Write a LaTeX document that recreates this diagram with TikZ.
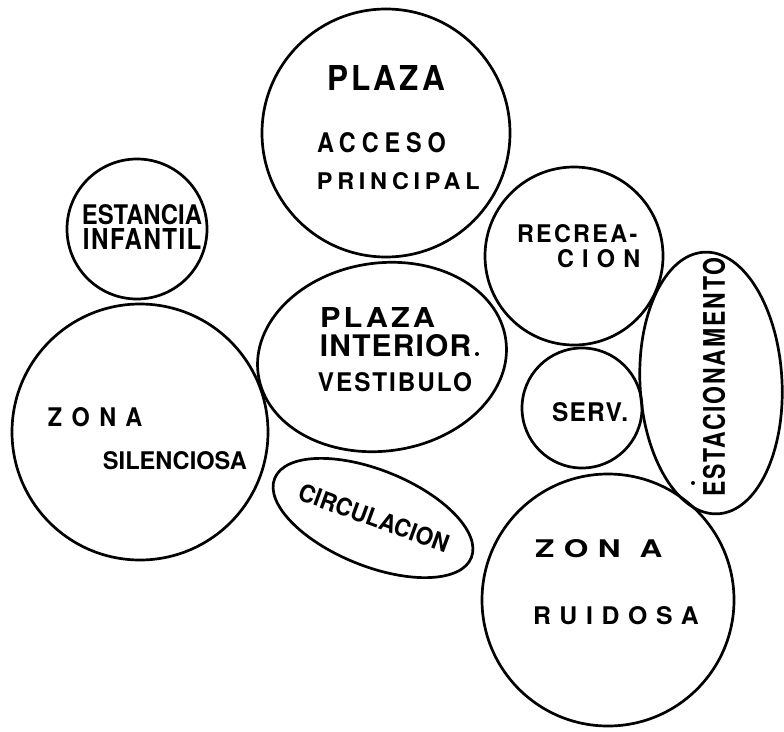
\documentclass[tikz,border=0pt]{standalone}
\usepackage{fontspec}
\usepackage{graphicx}
\usetikzlibrary{shapes.geometric}
\newfontfamily\hvfont{TeX Gyre Heros}
\newcommand{\fitt}[4]{\resizebox{#1pt}{#2pt}{\hvfont\bfseries\addfontfeature{LetterSpace=#3}#4\kern-\dimexpr#3\fontdimen6\font/100\relax}}
\begin{document}
\begin{tikzpicture}[x=1pt,y=-1pt,
  zone/.style={draw, line width=2.7pt, inner sep=0pt, outer sep=0pt},
  rnd/.style={zone, circle, minimum size=#1},
  ell/.style={zone, ellipse},
  lbl/.style={inner sep=0pt, outer sep=0pt, anchor=center},
  spot/.style={circle, fill, inner sep=0pt, minimum size=4pt}]
\useasboundingbox (0,0) rectangle (784,731);
% zones
\node[rnd=248pt] (plaza) at (386,133) {};
\node[rnd=140pt] (estancia) at (137,229) {};
\node[rnd=256pt] (silenciosa) at (140,432) {};
\node[ell, minimum width=250pt, minimum height=188pt, rotate=8] (interior) at (382,357) {};
\node[ell, minimum width=212pt, minimum height=96pt, rotate=-22] (circulacion) at (373,518) {};
\node[rnd=178pt] (recreacion) at (574,256) {};
\node[rnd=120pt] (serv) at (582,408) {};
\node[ell, minimum width=142pt, minimum height=262pt, rotate=3] (estac) at (711,383) {};
\node[rnd=252pt] (ruidosa) at (608,600) {};
% labels
\node[lbl] (t1) at (384.5,77.5) {\fitt{115}{25}{10}{PLAZA}};
\node[lbl] (t2) at (378.5,143) {\fitt{123}{20}{25}{ACCESO}};
\node[lbl] (t3) at (396,181.5) {\fitt{158}{17}{20}{PRINCIPAL}};
\node[lbl] (t4) at (142,215) {\fitt{120}{20}{0}{ESTANCIA}};
\node[lbl] (t5) at (141.5,239) {\fitt{117}{21}{6}{INFANTIL}};
\node[lbl] (t6) at (90.5,417.5) {\fitt{85}{19}{40}{ZONA}};
\node[lbl] (t7) at (175,461) {\fitt{144}{18}{0}{SILENCIOSA}};
\node[lbl] (t8) at (376,317) {\fitt{112}{20}{10}{PLAZA}};
\node[lbl] (t9) at (395,346) {\fitt{150}{22}{4}{INTERIOR}};
\node[spot] (d1) at (477,354) {};
\node[lbl] (t10) at (394,382.5) {\fitt{152}{19}{8}{VESTIBULO}};
\node[lbl, rotate=-20] (t11) at (374,518) {\fitt{158}{18}{0}{CIRCULACION}};
\node[lbl] (t12) at (576,234) {\fitt{118}{18}{10}{RECREA-}};
\node[lbl] (t13) at (594.5,259) {\fitt{75}{18}{35}{CION}};
\node[lbl] (t14) at (589.5,412.5) {\fitt{75}{19}{5}{SERV.}};
\node[lbl, rotate=90] (t15) at (714,378) {\fitt{237}{22}{8}{ESTACIONAMENTO}};
\node[spot] (d2) at (693,483) {};
\node[lbl] (t16) at (594,549) {\fitt{118}{18}{30}{ZON\hspace{0.6em}A}};
\node[lbl] (t17) at (611.5,616) {\fitt{157}{18}{35}{RUIDOSA}};
\end{tikzpicture}
\end{document}
